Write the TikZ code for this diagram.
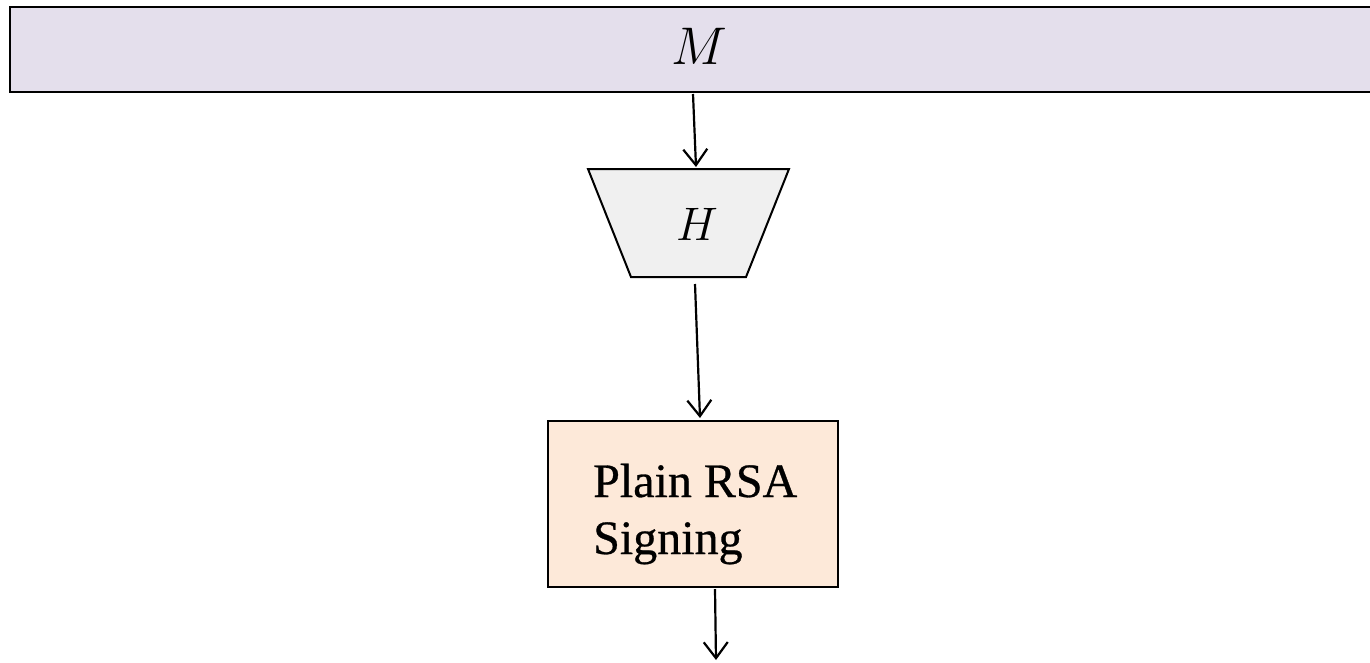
\documentclass[tikz,border=0pt]{standalone}
\usepackage{fix-cm}
\usepackage{fontspec}
\setmainfont{Liberation Serif}[FakeBold=0.6]
\usetikzlibrary{arrows.meta,calc}
\definecolor{barfill}{HTML}{E4DFEC}
\definecolor{hashfill}{HTML}{F0F0F0}
\definecolor{signfill}{HTML}{FDE9D9}
\tikzset{
  flow/.style={draw=black, line width=2.2pt, -{Straight Barb[length=16pt,width=24pt,line width=2.2pt]}},
  mathlabel/.style={inner sep=0pt},
  boxline/.style={draw=black, line width=2pt},
}
\begin{document}
\begin{tikzpicture}[x=1pt,y=-1pt]
  \clip (0,0) rectangle (1370,662);
  \fill[white] (0,0) rectangle (1370,662);
  % message bar
  \node[draw=black, line width=2.8pt, fill=barfill, minimum width=1400pt, minimum height=85pt,
        inner sep=0pt] (msg) at (710,49.5) {};
  \node[mathlabel, font=\fontsize{53}{58}\selectfont] (msglabel) at (699,46.5) {$M$};
  % hash function: trapezoid, wide side on top
  \coordinate (htl) at (588,169);
  \coordinate (htr) at (789,169);
  \coordinate (hbr) at (746,277);
  \coordinate (hbl) at (631,277);
  \filldraw[boxline, fill=hashfill, line join=miter] (htl) -- (htr) -- (hbr) -- (hbl) -- cycle;
  \node[mathlabel, font=\fontsize{47}{52}\selectfont] (hashlabel) at (697,224) {$H$};
  % signing box
  \node[boxline, fill=signfill, minimum width=290pt, minimum height=166pt,
        inner sep=0pt] (sign) at (693,504) {};
  \node[anchor=base west, inner sep=0pt, font=\fontsize{48}{57}\selectfont] (l1) at (593,497) {Plain RSA};
  \node[anchor=base west, inner sep=0pt, font=\fontsize{48}{57}\selectfont] (l2) at (593,554) {Signing};
  % connectors
  \coordinate (a1s) at (693,94);
  \coordinate (a1e) at (696,167);
  \coordinate (a2s) at (695,284);
  \coordinate (a2e) at (700,418);
  \coordinate (a3s) at (715,589);
  \coordinate (out) at (716,660);
  \draw[flow] (a1s) -- (a1e);
  \draw[flow] (a2s) -- (a2e);
  \draw[flow] (a3s) -- (out);
\end{tikzpicture}
\end{document}
